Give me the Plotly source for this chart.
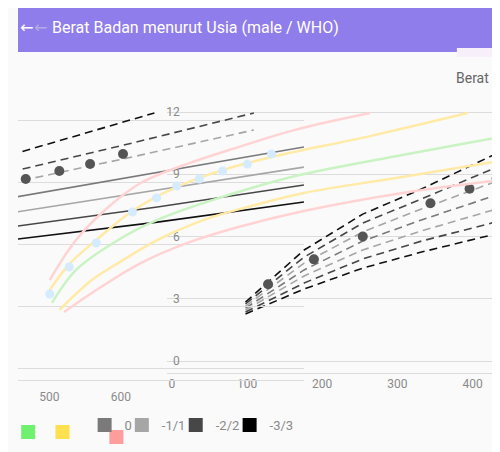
import plotly.graph_objects as go

# Z-Score-Linien (rechter, gestrichelter Teil)
days_main = [98, 176, 254, 332, 436]
z_plus3_main = [2.84, 5.35, 7.08, 8.29, 10.07]
z_plus2_main = [2.75, 5.01, 6.65, 7.81, 9.40]
z_plus1_main = [2.65, 4.72, 6.22, 7.33, 8.72]
z_zero_main = [2.55, 4.39, 5.78, 6.80, 8.05]
z_min1_main = [2.46, 4.10, 5.35, 6.27, 7.37]
z_min2_main = [2.36, 3.76, 4.92, 5.78, 6.75]
z_min3_main = [2.27, 3.47, 4.48, 5.25, 6.17]

# Messpunkte (rechter Teil)
meas_days = [128, 189, 254, 344, 396, 432]
meas_kg = [3.7, 4.9, 6.0, 7.6, 8.3, 8.8]

# umgebrochener Teil oben links (Tage 445..856)
wrap_days_a = [445, 541, 647]
wrap_days_b = [445, 616, 786]
wrap_days_c = [445, 651, 856]
z_plus3_wrap = [10.31, 11.28, 12.34]
z_plus2_wrap = [9.49, 10.89, 12.34]
z_plus1_wrap = [8.96, 10.22, 11.52]
z_zero_wrap = [8.24, 9.49, 10.70]
z_min1_wrap = [7.52, 8.63, 9.73]
z_min2_wrap = [6.84, 7.81, 8.87]
z_min3_wrap = [6.22, 7.08, 8.05]
meas_days_wrap = [467, 514, 557, 603]
meas_kg_wrap = [9.16, 9.54, 9.88, 10.36]

# farbige WHO-Kurven mit hellblauen Punkten
red_hi_days = [7, 42, 85, 128, 193, 258, 332, 433]
red_hi_kg = [3.90, 5.83, 7.42, 8.58, 9.54, 10.31, 11.13, 11.95]
yellow_hi_days = [7, 33, 69, 117, 176, 237, 302, 433, 563]
yellow_hi_kg = [3.42, 4.67, 5.83, 7.23, 8.39, 9.20, 9.83, 10.84, 11.95]
green_days = [10, 42, 98, 150, 215, 280, 345, 476, 606]
green_kg = [2.80, 4.39, 5.83, 6.80, 7.66, 8.39, 9.01, 9.93, 10.80]
yellow_lo_days = [20, 63, 98, 150, 215, 280, 345, 476, 606]
yellow_lo_kg = [2.46, 3.90, 4.72, 5.83, 6.84, 7.52, 8.10, 8.87, 9.64]
red_lo_days = [26, 63, 128, 193, 258, 345, 476, 606]
red_lo_kg = [2.36, 3.28, 4.72, 5.73, 6.46, 7.23, 8.10, 8.72]
blue_days = [7, 33, 69, 117, 149, 176, 206, 237, 270, 302]
blue_kg = [3.23, 4.53, 5.69, 7.18, 7.86, 8.43, 8.77, 9.16, 9.49, 9.98]

legend_labels = ["", "", "", "0", "-1/1", "-2/2", "-3/3"]

GREY = {"+3": "#111111", "+2": "#474747", "+1": "#a6a6a6", "0": "#7a7a7a",
        "-1": "#a6a6a6", "-2": "#474747", "-3": "#111111"}
GRID = "#dcdcdc"

# die Seite hat 8px Rand, deshalb 492x444 und alles um 8px verschoben
W, H = 492, 444


def px(sx):
    return (sx - 8) / W


def py(sy):
    return 1 - (sy - 8) / H


fig = go.Figure()

# Z-Linien rechts
main_lines = [("+3", z_plus3_main), ("+2", z_plus2_main), ("+1", z_plus1_main), ("0", z_zero_main),
              ("-1", z_min1_main), ("-2", z_min2_main), ("-3", z_min3_main)]
for key, kg in main_lines:
    fig.add_trace(go.Scatter(x=days_main, y=kg, mode="lines",
                             line=dict(color=GREY[key], width=1.6, dash="8px,5px"),
                             showlegend=False, hoverinfo="skip"))
fig.add_trace(go.Scatter(x=meas_days, y=meas_kg, mode="markers",
                         marker=dict(color="#555555", size=10), showlegend=False))

# Z-Linien links (umgebrochen)
wrap_lines = [("+3", wrap_days_a, z_plus3_wrap, "8px,5px"), ("+2", wrap_days_b, z_plus2_wrap, "8px,5px"),
              ("+1", wrap_days_b, z_plus1_wrap, "8px,5px"), ("0", wrap_days_c, z_zero_wrap, "solid"),
              ("-1", wrap_days_c, z_min1_wrap, "solid"), ("-2", wrap_days_c, z_min2_wrap, "solid"),
              ("-3", wrap_days_c, z_min3_wrap, "solid")]
for key, d, kg, dash in wrap_lines:
    fig.add_trace(go.Scatter(x=d, y=kg, mode="lines", line=dict(color=GREY[key], width=1.6, dash=dash),
                             xaxis="x2", yaxis="y2", showlegend=False, hoverinfo="skip"))
fig.add_trace(go.Scatter(x=meas_days_wrap, y=meas_kg_wrap, mode="markers",
                         marker=dict(color="#555555", size=10), xaxis="x2", yaxis="y2", showlegend=False))

# farbige Kurven
for d, kg, col in [(red_hi_days, red_hi_kg, "#ffd3d3"),
                   (yellow_hi_days, yellow_hi_kg, "#ffeaa6"),
                   (green_days, green_kg, "#c9f3c2"),
                   (yellow_lo_days, yellow_lo_kg, "#ffeaa6"),
                   (red_lo_days, red_lo_kg, "#ffd3d3")]:
    fig.add_trace(go.Scatter(x=d, y=kg, mode="lines", line=dict(color=col, width=2.5, shape="spline"),
                             xaxis="x3", yaxis="y3", showlegend=False, hoverinfo="skip"))
fig.add_trace(go.Scatter(x=blue_days, y=blue_kg, mode="markers", marker=dict(color="#d5ebff", size=9),
                         xaxis="x3", yaxis="y3", showlegend=False))

# Legende: jeder Eintrag eine eigene Legende, damit die Abstaende passen
legend_colors = ["#6ff06f", "#ffe04e", "#ff9d9d", "#7a7a7a", "#a6a6a6", "#474747", "#000000"]
legend_pos = [(22, 432), (57, 432), (112, 437), (100, 425), (138, 425), (193, 425), (248, 425)]
legend_layout = {}
for i, (lab, col, (cx, cy)) in enumerate(zip(legend_labels, legend_colors, legend_pos)):
    lname = "legend" if i == 0 else f"legend{i + 1}"
    fig.add_trace(go.Scatter(x=[None], y=[None], mode="markers", name=lab, legend=lname,
                             marker=dict(symbol="square", size=14, color=col)))
    legend_layout[lname] = dict(x=px(cx - 24), y=py(cy), xanchor="left", yanchor="middle",
                                bgcolor="rgba(0,0,0,0)", itemwidth=30,
                                font=dict(size=13, color="#8a8a8a"))

tick_font = dict(color="#8a8a8a", size=12)
fig.update_layout(
    width=W, height=H, autosize=False,
    margin=dict(l=0, r=0, t=0, b=0),
    paper_bgcolor="#fafafa", plot_bgcolor="rgba(0,0,0,0)",
    font=dict(family="Roboto", color="#8a8a8a"),
    xaxis=dict(domain=[0.309, 1], range=[-6.5, 436.5], tickvals=[0, 100, 200, 300, 400],
               showgrid=False, zeroline=False, showline=True, linecolor=GRID, ticks="",
               tickfont=tick_font, anchor="y"),
    yaxis=dict(domain=[0.1779, 0.7928], range=[-0.578, 12.58], tickvals=[0, 3, 6, 9, 12],
               gridcolor=GRID, zeroline=False, tickfont=tick_font, anchor="free", position=px(173)),
    xaxis2=dict(domain=[0, 0.5935], range=[456.2, 856.2], tickvals=[500, 600],
                showgrid=False, zeroline=False, showline=True, linecolor=GRID, ticks="",
                ticklabelstandoff=6, tickfont=tick_font, anchor="y2"),
    yaxis2=dict(domain=[0.1622, 0.7748], range=[-0.53, 12.58], tickvals=[0, 3, 6, 9, 12],
                gridcolor=GRID, zeroline=False, showticklabels=False, anchor="x2"),
    xaxis3=dict(domain=[0, 1], range=[-35.2, 605.9], visible=False, anchor="y3"),
    yaxis3=dict(domain=[0.1779, 0.7928], range=[-0.578, 12.58], visible=False, anchor="x3"),
    showlegend=True,
    **legend_layout,
)

# App-Leiste
fig.add_shape(type="rect", xref="paper", yref="paper", x0=0, x1=1, y0=py(52), y1=1,
              fillcolor="#8f7deb", line_width=0, layer="above")
fig.add_shape(type="rect", xref="paper", yref="paper", x0=px(456), x1=1, y0=py(57), y1=py(48),
              fillcolor="#f7effa", line_width=0, layer="above")
fig.add_annotation(text="Berat Badan menurut Usia (male / WHO)", xref="paper", yref="paper",
                   x=px(41), y=py(27), xanchor="left", yanchor="middle", showarrow=False,
                   font=dict(size=16, color="white"))
fig.add_annotation(text="←", xref="paper", yref="paper", x=px(8), y=py(27), xanchor="left",
                   yanchor="middle", showarrow=False,
                   font=dict(family="DejaVu Sans", size=16, color="white"))
fig.add_annotation(text="←", xref="paper", yref="paper", x=px(22), y=py(27), yanchor="middle",
                   showarrow=False, font=dict(family="DejaVu Sans", size=16, color="#b3a9e6"))
fig.add_annotation(text="Berat", xref="paper", yref="paper", x=px(453), y=py(68), xanchor="left",
                   showarrow=False, font=dict(size=14, color="#666666"))

fig.write_html("out.html")
